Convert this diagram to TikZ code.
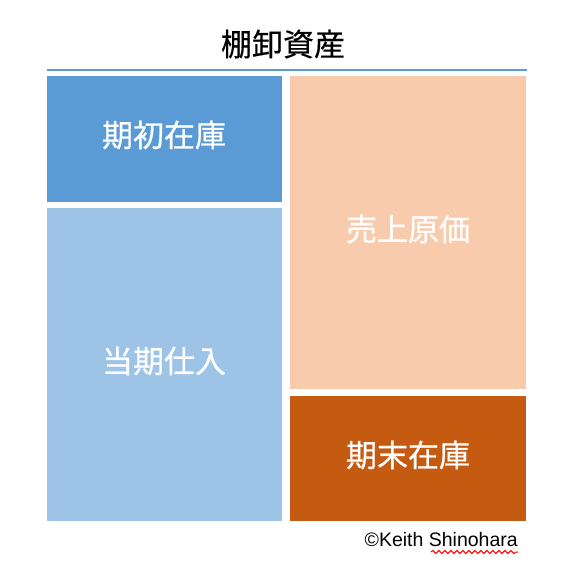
\documentclass[tikz,border=0pt]{standalone}
\usepackage{fontspec}
\newfontfamily\jp[FakeBold=0.7]{Noto Sans CJK JP}
\newfontfamily\jpt[FakeBold=0.4]{Noto Sans CJK JP}
\setmainfont{Liberation Sans}
\usetikzlibrary{decorations.pathmorphing}
\definecolor{bluedark}{HTML}{5B9BD5}
\definecolor{bluelight}{HTML}{9DC3E6}
\definecolor{peach}{HTML}{F8CBAD}
\definecolor{rust}{HTML}{C55A11}
\begin{document}
\begin{tikzpicture}[x=1pt,y=-1pt,
  block/.style={draw=none,inner sep=0pt,outer sep=0pt,text=white,font=\jp\fontsize{31}{31}\selectfont},
  ]
\useasboundingbox (0,0) rectangle (570,578);
\node[font=\jpt\fontsize{31}{31}\selectfont] (title) at (283,44) {棚卸資産};
\coordinate (la) at (47,70);
\coordinate (lb) at (527,70);
\draw[bluedark,line width=2pt] (la) -- (lb);
\fill[bluedark] (47,76) rectangle (282,202);
\node[block] (kishu) at (164,135) {期初在庫};
\fill[bluelight] (47,208) rectangle (282,521);
\node[block] (toki) at (164,361) {当期仕入};
\fill[peach] (290,76) rectangle (526,389);
\node[block] (uriage) at (408,229) {売上原価};
\fill[rust] (290,396) rectangle (526,521);
\node[block] (kimatsu) at (408,455) {期末在庫};
\node[anchor=east,inner sep=0pt,font=\fontsize{19.5}{19.5}\selectfont] (copy) at (518,540) {©Keith Shinohara};
\coordinate (wa) at (431,552);
\coordinate (wb) at (518,552);
\draw[red,line width=1pt,decorate,decoration={snake,amplitude=1.6pt,segment length=6pt}] (wa) -- (wb);
\end{tikzpicture}
\end{document}
